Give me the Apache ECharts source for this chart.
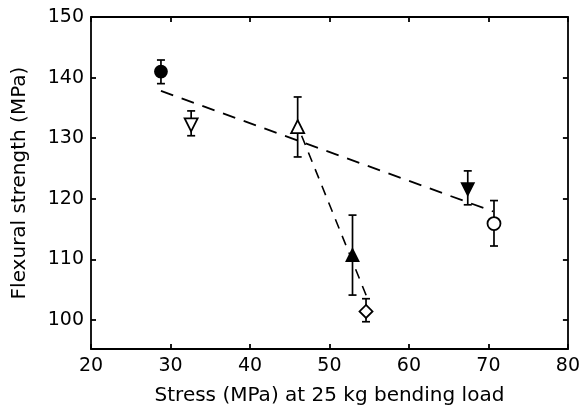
<!DOCTYPE html>
<html><head><meta charset="utf-8">
<script src="https://cdn.jsdelivr.net/npm/echarts@6/dist/echarts.min.js"></script>
<style>html,body{margin:0;padding:0;background:#fff}#c{width:583px;height:411px}</style>
</head><body><div id="c"></div>
<script>
// ---- data ----
const pointX   = [28.8, 32.6, 46.0, 52.9, 54.6, 67.4, 70.7];
const pointY   = [141.0, 132.2, 131.9, 110.7, 101.4, 121.6, 115.9];
const errLow   = [139.0, 130.4, 126.9, 104.1, 99.7, 119.0, 112.2];
const errHigh  = [142.9, 134.5, 136.8, 117.3, 103.5, 124.6, 119.7];
const fit1X = [28.8, 70.6];
const fit1Y = [137.8, 117.9];
const fit2X = [46.5, 54.7];
const fit2Y = [130.4, 103.8];
const xTicks = [20, 30, 40, 50, 60, 70, 80];
const yTicks = [100, 110, 120, 130, 140, 150];
const xTitle = 'Stress (MPa) at 25 kg bending load';
const yTitle = 'Flexural strength (MPa)';

// marker styles (not data)
const markerStyles = [
  {symbol: 'circle',   rot: 0,   size: 12, fill: '#000'},
  {symbol: 'triangle', rot: 180, size: 13, fill: '#fff'},
  {symbol: 'triangle', rot: 0,   size: 13, fill: '#fff'},
  {symbol: 'triangle', rot: 0,   size: 12, fill: '#000'},
  {symbol: 'diamond',  rot: 0,   size: 13, fill: '#fff'},
  {symbol: 'triangle', rot: 180, size: 12, fill: '#000'},
  {symbol: 'circle',   rot: 0,   size: 13, fill: '#fff'}
];

const FONT = 'DejaVu Sans';
const chart = echarts.init(document.getElementById('c'), null, {renderer: 'canvas'});

const errData = pointX.map((x, i) => [x, errLow[i], errHigh[i]]);
const ptData = pointX.map((x, i) => ({
  value: [x, pointY[i]],
  symbol: markerStyles[i].symbol,
  symbolRotate: markerStyles[i].rot,
  symbolSize: markerStyles[i].size,
  itemStyle: {color: markerStyles[i].fill, borderColor: '#000', borderWidth: 1.8, opacity: 1}
}));

const axisCommon = {
  axisLine: {show: true, lineStyle: {color: '#000', width: 1.8}},
  axisTick: {show: true, inside: true, length: 5, lineStyle: {color: '#000', width: 1.8}},
  splitLine: {show: false}
};

chart.setOption({
  animation: false,
  backgroundColor: '#fff',
  grid: {left: 91, right: 12, top: 17, bottom: 59, containLabel: false},
  xAxis: [
    Object.assign({}, axisCommon, {
      type: 'value', min: 20, max: 80, interval: 10, position: 'bottom',
      name: xTitle, nameLocation: 'middle', nameGap: 37,
      nameTextStyle: {fontFamily: FONT, fontSize: 20, color: '#000'},
      axisLabel: {fontFamily: FONT, fontSize: 19, color: '#000', margin: 8,
        customValues: xTicks}
    }),
    Object.assign({}, axisCommon, {
      type: 'value', min: 20, max: 80, interval: 10, position: 'top',
      axisLabel: {show: false}
    })
  ],
  yAxis: [
    Object.assign({}, axisCommon, {
      type: 'value', min: 95.2, max: 150, position: 'left',
      name: yTitle, nameLocation: 'middle', nameGap: 61,
      nameTextStyle: {fontFamily: FONT, fontSize: 20, color: '#000'},
      axisTick: Object.assign({}, axisCommon.axisTick, {customValues: yTicks}),
      axisLabel: {fontFamily: FONT, fontSize: 19, color: '#000', margin: 7,
        customValues: yTicks}
    }),
    Object.assign({}, axisCommon, {
      type: 'value', min: 95.2, max: 150, position: 'right',
      axisTick: Object.assign({}, axisCommon.axisTick, {customValues: yTicks}),
      axisLabel: {show: false}
    })
  ],
  series: [
    {
      type: 'line', data: fit1X.map((x, i) => [x, fit1Y[i]]),
      symbol: 'none', silent: true,
      lineStyle: {color: '#000', width: 1.8, type: [13, 9]}, z: 1
    },
    {
      type: 'line', data: fit2X.map((x, i) => [x, fit2Y[i]]),
      symbol: 'none', silent: true,
      lineStyle: {color: '#000', width: 1.6, type: [10, 8]}, z: 1
    },
    {
      type: 'custom', data: errData, z: 2,
      encode: {x: 0, y: [1, 2]},
      renderItem: function (params, api) {
        const x = api.value(0);
        const lo = api.coord([x, api.value(1)]);
        const hi = api.coord([x, api.value(2)]);
        const cw = 4;
        const st = {stroke: '#000', lineWidth: 1.7};
        return {
          type: 'group',
          children: [
            {type: 'line', shape: {x1: lo[0], y1: lo[1], x2: hi[0], y2: hi[1]}, style: st},
            {type: 'line', shape: {x1: lo[0] - cw, y1: lo[1], x2: lo[0] + cw, y2: lo[1]}, style: st},
            {type: 'line', shape: {x1: hi[0] - cw, y1: hi[1], x2: hi[0] + cw, y2: hi[1]}, style: st}
          ]
        };
      }
    },
    {
      type: 'scatter', data: ptData, z: 3
    }
  ]
});
</script>
</body></html>
